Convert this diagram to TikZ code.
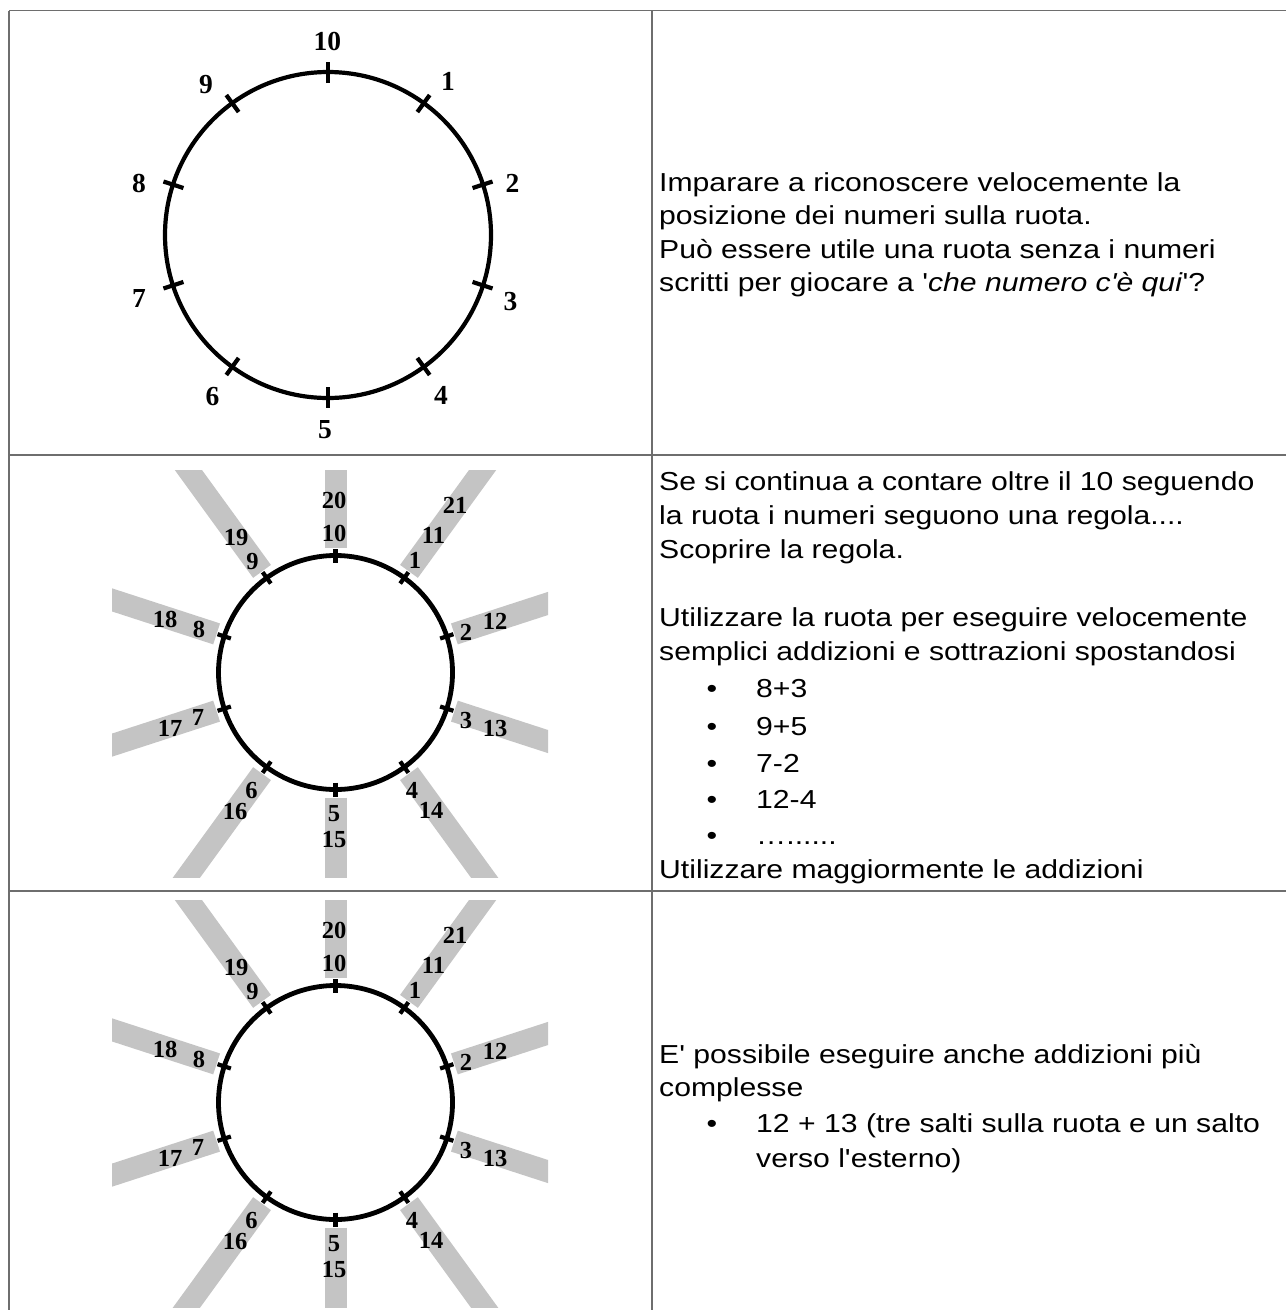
\documentclass[tikz,border=0pt]{standalone}
\usepackage{fontspec}
\setmainfont{Liberation Sans}[FakeStretch=1.16,Ligatures=TeXOff]
\newfontfamily\numfont{Liberation Serif}
\definecolor{bargray}{RGB}{196,196,196}
\definecolor{rulegray}{RGB}{110,110,110}

\newcommand\mywheel[3]{%
  \begin{scope}[shift={(#2,#3)}]
    \begin{scope}
      \clip (-223.5,-202.5) rectangle (212.5,204.5);
      \foreach \a in {18,54,...,342}
        \draw[bar] ({125*cos(\a)},{-125*sin(\a)}) -- ({420*cos(\a)},{-420*sin(\a)});
    \end{scope}
    \draw[ringB] (0,0) circle (117);
    \foreach \a in {18,54,...,342}
      \draw[tickB] ({110*cos(\a)},{-110*sin(\a)}) -- ({124*cos(\a)},{-124*sin(\a)});
    \foreach \t/\x/\y in {10/-1.5/-139.5, 20/-1.5/-172, 1/79.5/-112.5, 11/98/-137.5,
        21/119.5/-167.5, 2/130.5/-40.5, 12/159.5/-51.5, 3/130.5/47.5, 13/159.5/55.5,
        4/76.5/117.5, 14/95.5/137.5, 5/-1.5/141.5, 15/-1.5/167.5, 6/-84/117.5,
        16/-100.5/138.5, 7/-137.5/44.5, 17/-165.5/55.5, 8/-136.5/-43.5,
        18/-170.5/-53.5, 9/-83/-111.5, 19/-99.5/-135.5}
      \node[numB] (#1-l\t) at (\x,\y) {\t};
  \end{scope}}

\begin{document}
\begin{tikzpicture}[x=1pt,y=-1pt,
  txt/.style={anchor=base west, inner sep=0pt, font=\fontsize{26}{32}\selectfont},
  numA/.style={inner sep=0pt, font=\numfont\bfseries\fontsize{27.5}{27.5}\selectfont},
  numB/.style={inner sep=0pt, font=\numfont\bfseries\fontsize{24.5}{24.5}\selectfont},
  rule/.style={draw=rulegray, line width=1.4pt},
  ringA/.style={draw=black, line width=4.2pt},
  ringB/.style={draw=black, line width=4.8pt},
  tickA/.style={draw=black, line width=4.2pt},
  tickB/.style={draw=black, line width=4.2pt},
  bar/.style={draw=bargray, line width=22pt}]

\useasboundingbox (0,0) rectangle (1286,1310);
\fill[white] (0,0) rectangle (1286,1310);

% table rules
\coordinate (tl) at (9,10.5);
\coordinate (tr) at (1286,10.5);
\coordinate (bl) at (9,1310);
\coordinate (ct) at (652,10.5);
\coordinate (cb) at (652,1310);
\coordinate (r1l) at (9,455);
\coordinate (r1r) at (1286,455);
\coordinate (r2l) at (9,891);
\coordinate (r2r) at (1286,891);
\draw[rule] (tl) -- (tr);
\draw[rule] (tl) -- (bl);
\draw[rule] (ct) -- (cb);
\draw[rule] (r1l) -- (r1r);
\draw[rule] (r2l) -- (r2r);

% row 1 wheel
\begin{scope}[shift={(328,235)}]
  \draw[ringA] (0,0) circle (163);
  \foreach \a in {18,54,...,342}
    \draw[tickA] ({152*cos(\a)},{-152*sin(\a)}) -- ({173*cos(\a)},{-173*sin(\a)});
\end{scope}
\foreach \t/\x/\y in {10/327.4/41.7, 1/448/81.7, 2/512.6/183, 3/510.5/301.7,
    4/441/395, 5/325/430, 6/212.5/396.7, 7/139/298, 8/139/183, 9/206/85}
  \node[numA] (wa-l\t) at (\x,\y) {\t};

% rows 2 and 3 wheels
\mywheel{wb}{335.5}{672.5}
\mywheel{wc}{335.5}{1102.5}

% row 1 text
\node[txt] (t1a) at (659,191) {Imparare a riconoscere velocemente la};
\node[txt] (t1b) at (659,224.5) {posizione dei numeri sulla ruota.};
\node[txt] (t1c) at (659,258) {Può essere utile una ruota senza i numeri};
\node[txt] (t1d) at (659,291.5) {scritti per giocare a '\textit{che numero c'è qui}'?};

% row 2 text
\node[txt] (t2a) at (659,490) {Se si continua a contare oltre il 10 seguendo};
\node[txt] (t2b) at (659,524) {la ruota i numeri seguono una regola....};
\node[txt] (t2c) at (659,558) {Scoprire la regola.};
\node[txt] (t2d) at (659,626) {Utilizzare la ruota per eseguire velocemente};
\node[txt] (t2e) at (659,660) {semplici addizioni e sottrazioni spostandosi};
\foreach \k/\y/\s in {1/697/8+3, 2/735/9+5, 3/772/7-2, 4/808/12-4}{
  \node[txt] (b2-\k) at (706.5,\y) {•};
  \node[txt] (i2-\k) at (756,\y) {\s};
}
\node[txt] (b2-5) at (706.5,844) {•};
\node[txt] (i2-5) at (756,844) {…......};
\node[txt] (t2f) at (659,878) {Utilizzare maggiormente le addizioni};

% row 3 text
\node[txt] (t3a) at (659,1063) {E' possibile eseguire anche addizioni più};
\node[txt] (t3b) at (659,1096) {complesse};
\node[txt] (b3-1) at (706.5,1132) {•};
\node[txt] (i3-1) at (756,1132) {12 + 13 (tre salti sulla ruota e un salto};
\node[txt] (i3-2) at (756,1167) {verso l'esterno)};
\end{tikzpicture}
\end{document}
